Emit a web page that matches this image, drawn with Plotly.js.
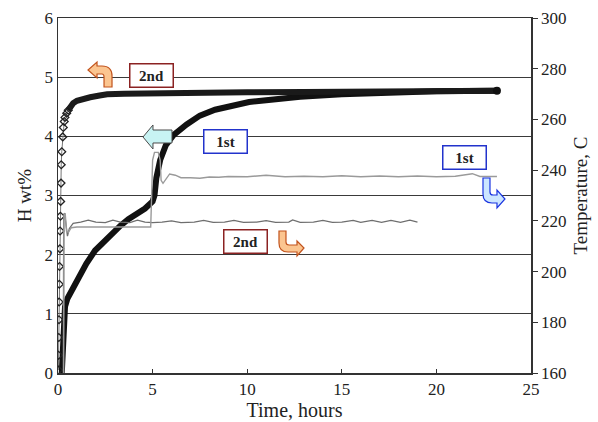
<!DOCTYPE html>
<html>
<head>
<meta charset="utf-8">
<script src="https://cdn.plot.ly/plotly-3.0.1.min.js"></script>
<style>html,body{margin:0;padding:0;background:#fff;}#chart{width:598px;height:422px;}</style>
</head>
<body>
<div id="chart"></div>
<script>
// ---- Data ----
// 2nd cycle hydrogen uptake (H wt%), initial steep rise (open diamonds)
const h2RiseTime = [0.02,0.03,0.04,0.05,0.06,0.07,0.08,0.10,0.11,0.13,0.14,0.16,0.17,0.20,0.25,0.28,0.33,0.37,0.46,0.54];
const h2RiseH    = [0.05,0.30,0.60,0.90,1.20,1.50,1.80,2.10,2.40,2.65,2.90,3.21,3.52,3.74,3.99,4.15,4.25,4.32,4.39,4.44];
// 2nd cycle plateau (dense markers, thick)
const h2PlateauTime = [0.54,0.63,0.80,1.00,1.30,1.70,2.20,2.60,3.50,5.00,7.00,10.0,13.0,15.5,18.0,20.0,23.2];
const h2PlateauH    = [4.44,4.50,4.56,4.60,4.63,4.66,4.69,4.71,4.72,4.73,4.74,4.745,4.75,4.76,4.765,4.76,4.77];
// 1st cycle hydrogen uptake (H wt%)
const h1Time = [0.20,0.25,0.30,0.37,0.50,0.72,1.07,1.50,1.96,2.40,2.84,3.30,3.72,4.20,4.60,5.00,5.10,5.20,5.40,5.70,6.10,6.80,7.50,8.30,9.26,10.1,11.0,12.8,15.0,17.0,20.0,23.2];
const h1H    = [0.00,0.40,0.80,1.12,1.26,1.40,1.60,1.85,2.07,2.22,2.36,2.49,2.60,2.70,2.78,2.90,3.00,3.30,3.60,3.85,4.02,4.20,4.35,4.45,4.53,4.58,4.61,4.67,4.71,4.74,4.76,4.77];
// 2nd cycle temperature (C)
const t2Time = [0.28,0.30,0.35,0.45,0.50,0.60,0.80,1.2,1.6,2.0,2.5,2.9,3.3,3.8,4.2,4.6,5.0,5.5,6.0,6.5,7.2,7.7,8.2,8.8,9.3,9.8,10.5,11.0,11.5,12.2,12.4,12.8,13.5,14.0,14.5,15.0,15.6,16.0,16.6,17.1,17.6,18.1,18.6,19.0];
const t2Temp = [160,222.5,223,218,214,217,219,219.5,220.3,219.5,219.3,220.3,219.5,219.3,220.3,219.5,219.3,219.5,220,219.3,219.5,220.2,219.4,219.5,220.2,219.4,219.5,220.1,219.4,219.5,220.4,219.4,219.5,220.2,219.4,219.5,220.2,219.4,220.2,219.4,220.2,219.4,220.3,219.5];
// 1st cycle temperature (C)
const t1Time = [0.30,0.32,0.38,0.45,0.55,0.70,1.0,2.0,3.0,4.0,4.90,4.95,5.00,5.10,5.30,5.40,5.45,5.55,5.70,5.90,6.20,6.50,7.0,7.5,8.0,8.5,9.0,10.0,11.0,12.0,13.0,14.0,15.0,16.0,17.0,18.0,19.0,20.0,21.0,21.9,22.3,23.2];
const t1Temp = [160,222,223,216,215.5,217.3,217.6,217.6,217.8,217.6,217.6,230,244,247,247,244,236,234.8,236.5,238.5,238,237,237,236.8,237.3,237.2,237.5,237.4,238,237.4,237.6,237.4,237.8,237.4,237.7,237.4,237.7,237.4,237.6,238.6,237.5,237.5];
// Axis ticks
const xTicks = [0,5,10,15,20,25];
const hTicks = [0,1,2,3,4,5,6];
const tempTicks = [160,180,200,220,240,260,280,300];

const serif = 'Liberation Serif, Times New Roman, serif';

const traces = [
  {x: t2Time, y: t2Temp, yaxis: 'y2', mode: 'lines', line: {color: '#6e6e6e', width: 1.3}, hoverinfo: 'skip'},
  {x: t1Time, y: t1Temp, yaxis: 'y2', mode: 'lines', line: {color: '#9a9a9a', width: 1.4}, hoverinfo: 'skip'},
  {x: h1Time, y: h1H, mode: 'lines', line: {color: '#111', width: 6}},
  {x: h2PlateauTime, y: h2PlateauH, mode: 'lines', line: {color: '#1a1a1a', width: 6}},
  {x: [h2PlateauTime[h2PlateauTime.length-1]], y: [h2PlateauH[h2PlateauH.length-1]], mode: 'markers', marker: {color: '#111', size: 8}},
  {x: h2RiseTime, y: h2RiseH, mode: 'lines+markers', line: {color: '#777', width: 1},
   marker: {symbol: 'diamond-open', size: 6, color: '#222', line: {width: 1.3, color: '#222'}}}
];

// convert reference pixel positions to paper coords for decorative arrows
const L = 58, T = 18, W = 473, H = 355;
function p(px, py) { return ((px - L) / W).toFixed(4) + ',' + ((T + H - py) / H).toFixed(4); }
function path(cmds) {
  return cmds.map(c => c[0] + (c.length > 1 ? ' ' + c.slice(1).reduce((acc, v, i, arr) => {
    if (i % 2 === 0) acc.push(p(v, arr[i + 1]));
    return acc;
  }, []).join(' ') : '')).join(' ');
}

const orangeFill = '#fbc590', orangeLine = '#c2531c';
const shapes = [
  {type: 'path', xref: 'paper', yref: 'paper', layer: 'above',
   path: path([['M',104,87],['L',112,87],['L',112,76],['Q',112,66,102,66],['L',97,66],['L',97,62],['L',88,70],['L',97,78],['L',97,74],['L',102,74],['Q',104,74,104,77],['Z']]),
   fillcolor: orangeFill, line: {color: orangeLine, width: 1.2}},
  {type: 'path', xref: 'paper', yref: 'paper', layer: 'above',
   path: path([['M',143,137],['L',153,125],['L',153,130],['L',172,130],['L',172,143],['L',153,143],['L',153,149],['Z']]),
   fillcolor: '#c8f3f3', line: {color: '#4a4a4a', width: 1}},
  {type: 'path', xref: 'paper', yref: 'paper', layer: 'above',
   path: path([['M',483,178],['L',490,178],['L',490,192],['Q',490,195,493,195],['L',497,195],['L',497,190],['L',505,199],['L',497,208],['L',497,203],['L',492,203],['Q',483,203,483,194],['Z']]),
   fillcolor: '#cce6ff', line: {color: '#1a34e0', width: 1.2}},
  {type: 'path', xref: 'paper', yref: 'paper', layer: 'above',
   path: path([['M',279,231],['L',286,231],['L',286,242],['Q',286,245,289,245],['L',297,245],['L',297,241],['L',304,248],['L',297,256],['L',297,252],['L',288,252],['Q',279,252,279,243],['Z']]),
   fillcolor: orangeFill, line: {color: orangeLine, width: 1.2}}
];

function box(text, px, py, border) {
  return {text: '<b>' + text + '</b>', xref: 'paper', yref: 'paper',
    x: (px - L) / W, y: (T + H - py) / H, xanchor: 'center', yanchor: 'middle',
    showarrow: false, bgcolor: '#fff', bordercolor: border, borderwidth: 1.5, borderpad: 2,
    width: 38, height: 18, font: {family: serif, size: 15, color: '#222'}};
}
const annotations = [
  box('2nd', 151, 75.5, '#8b2222'),
  box('1st', 225.5, 141.5, '#2233cc'),
  box('1st', 464, 157.5, '#2233cc'),
  box('2nd', 245, 241, '#8b2222')
];

const layout = {
  width: 598, height: 422,
  margin: {l: L, r: 598 - L - W, t: T, b: 422 - T - H, pad: 0},
  paper_bgcolor: '#fff', plot_bgcolor: '#fff',
  showlegend: false,
  font: {family: serif, color: '#222'},
  xaxis: {range: [0, 25], tickvals: xTicks, ticktext: xTicks.map(String), ticks: 'inside', ticklen: 4, tickcolor: '#333',
    showline: true, linecolor: '#333', linewidth: 1.5, mirror: true, showgrid: false, zeroline: false,
    tickfont: {family: serif, size: 17, color: '#222'},
    title: {text: 'Time, hours', font: {family: serif, size: 20, color: '#222'}, standoff: 4}},
  yaxis: {range: [0, 6], tickvals: hTicks, ticktext: hTicks.map(String), ticks: '', showgrid: true, gridcolor: '#3a3a3a', gridwidth: 1.3,
    showline: true, linecolor: '#333', linewidth: 1.5, zeroline: false,
    tickfont: {family: serif, size: 17, color: '#222'},
    title: {text: 'H wt%', font: {family: serif, size: 19, color: '#222'}, standoff: 8}},
  yaxis2: {range: [160, 300], tickvals: tempTicks, ticktext: tempTicks.map(String), overlaying: 'y', side: 'right',
    ticks: 'outside', ticklen: 5, tickcolor: '#333', showline: true, linecolor: '#333', linewidth: 1.5,
    showgrid: false, zeroline: false, tickfont: {family: serif, size: 17, color: '#222'},
    title: {text: 'Temperature, C', font: {family: serif, size: 19, color: '#222'}, standoff: 8}},
  shapes: shapes,
  annotations: annotations
};

Plotly.newPlot('chart', traces, layout, {staticPlot: true, displayModeBar: false});
</script>
</body>
</html>
